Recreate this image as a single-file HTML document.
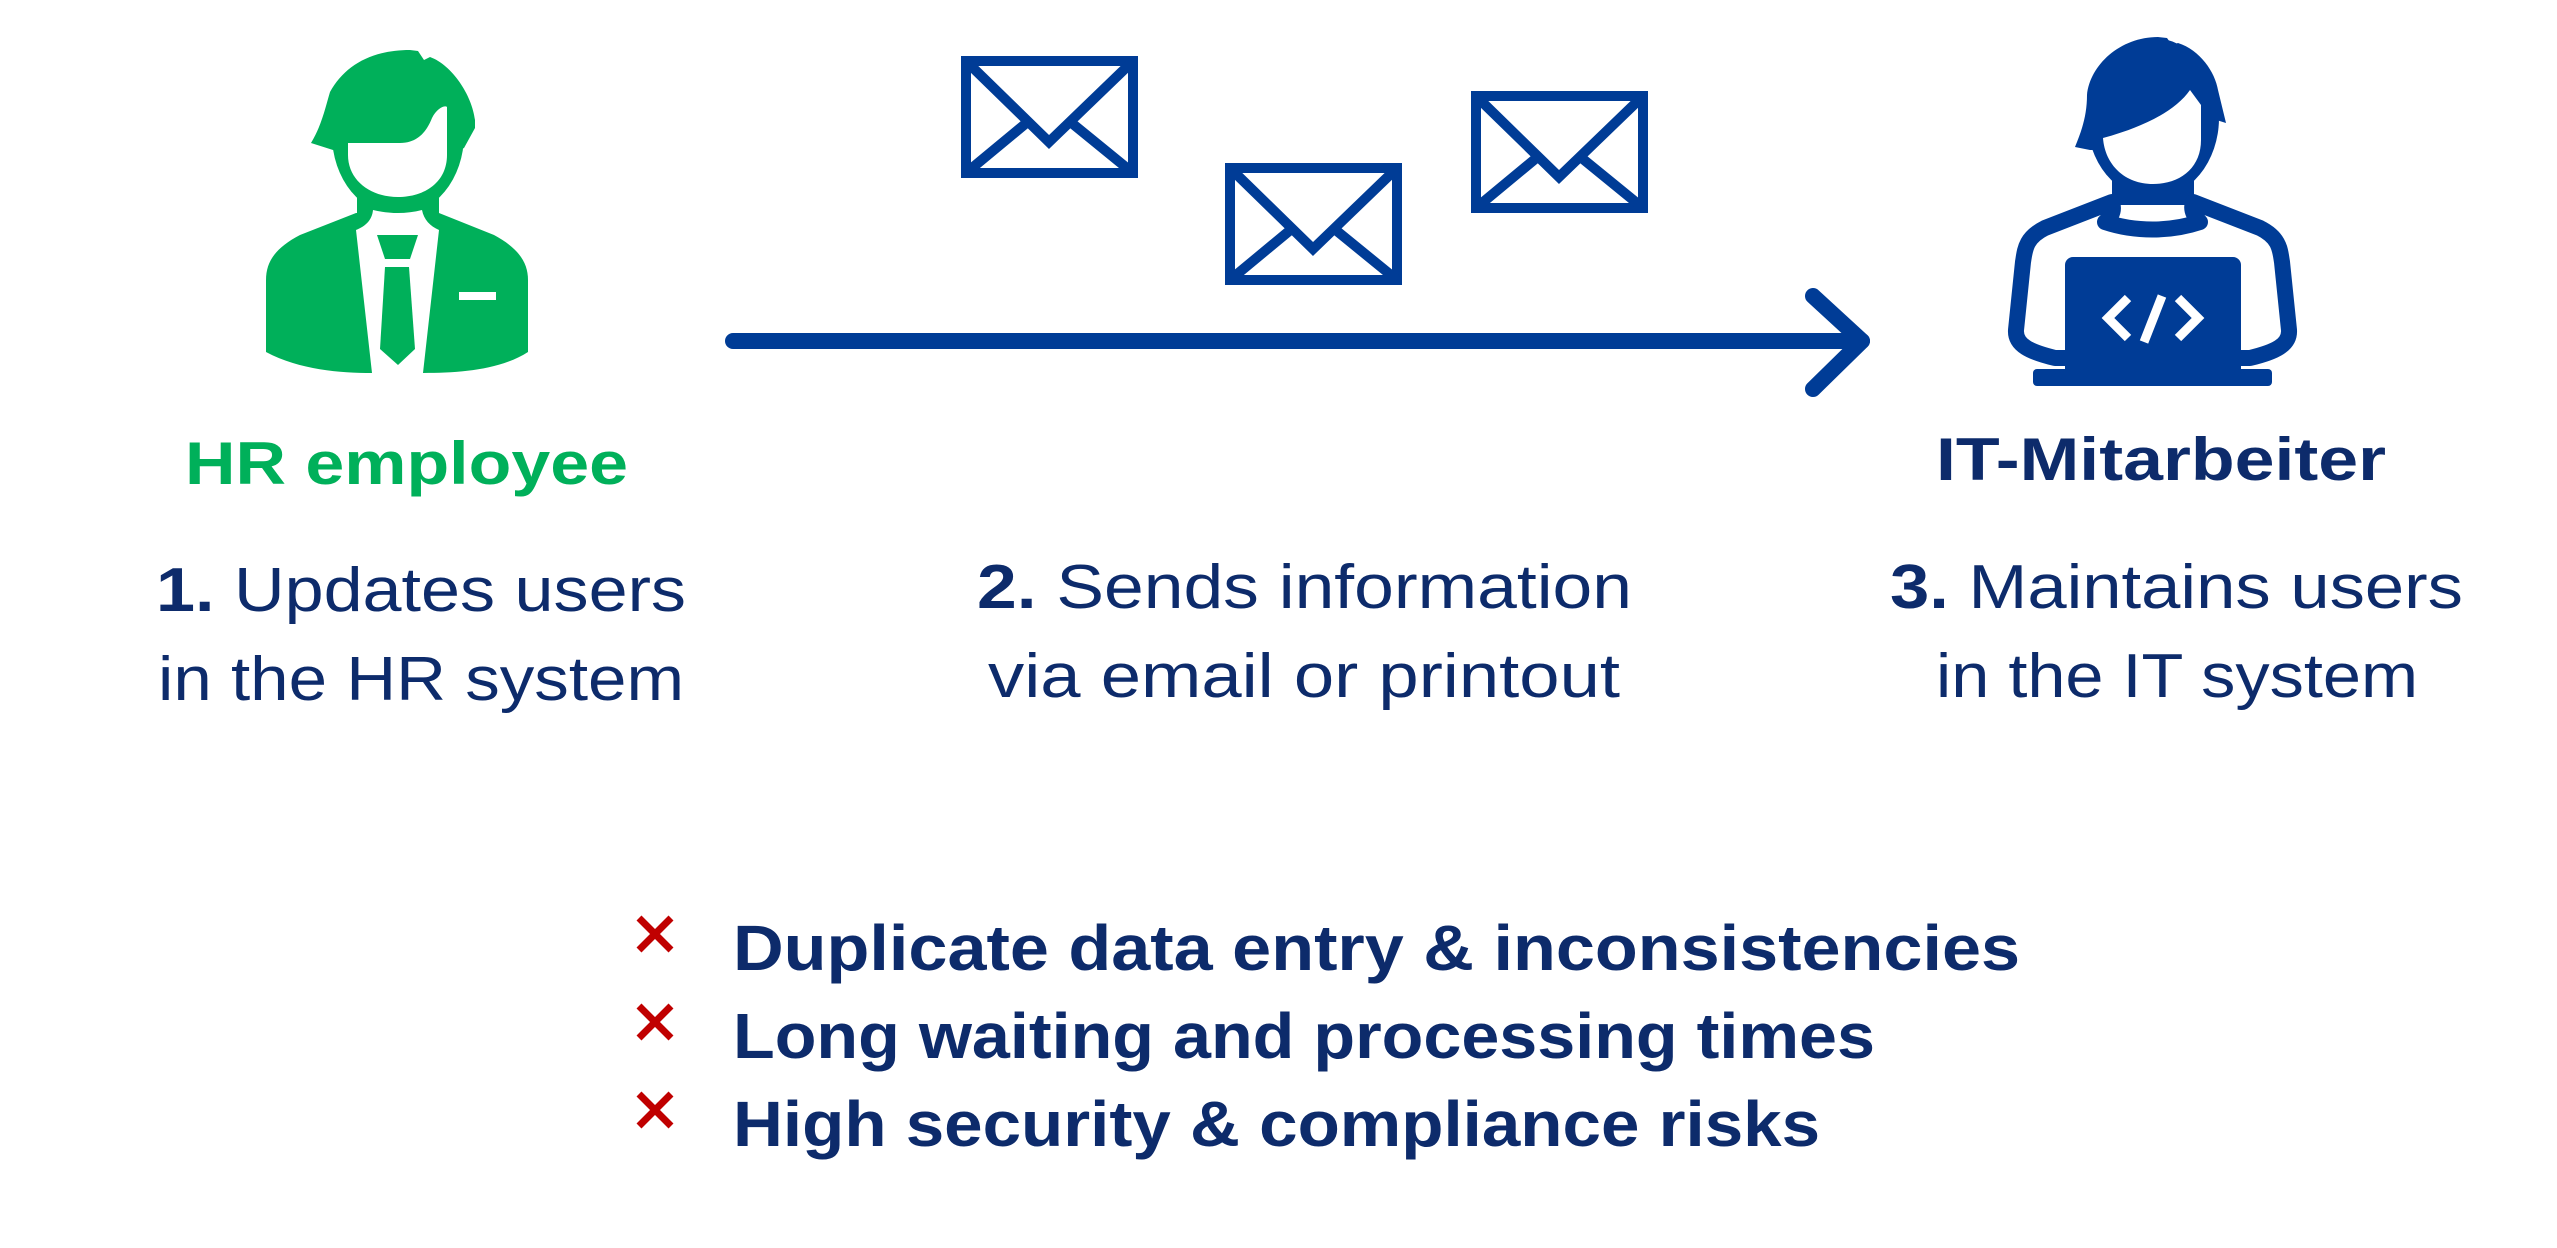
<!DOCTYPE html>
<html><head><meta charset="utf-8"><style>
html,body{margin:0;padding:0;background:#fff;}
svg{display:block;}
text{font-family:"Liberation Sans",sans-serif;}
</style></head><body>
<svg width="2557" height="1248" viewBox="0 0 2557 1248" xmlns="http://www.w3.org/2000/svg">
<rect width="2557" height="1248" fill="#fff"/>
<!-- HR icon -->
<g fill="#00B05A">
  <ellipse cx="398" cy="135" rx="66" ry="80"/>
  <path d="M311,143 C322,125 326,105 330,92 C345,65 372,50 410,50 L418,51 L424,60 L430,57 C452,65 472,95 475,120 L475,128 L464,148 L460,150 L333,150 Z"/>
  <rect x="357" y="190" width="82" height="30"/>
  <path d="M356,213 L300,235 C275,248 266,262 266,280 L266,352 C300,370 340,373 372,373 L423,373 C460,373 500,370 528,352 L528,280 C528,262 518,248 494,235 L439,213 Z"/>
</g>
<path fill="#fff" d="M348,143 L400,143 C420,143 428,128 432,118 C437,108 445,105 447,107 L447,155 C447,182 425,197 398,197 C370,197 348,180 348,155 Z"/>
<path fill="#fff" d="M373,210 C390,214 406,214 422,210 C424,220 430,226 439,230 L423,373 L372,373 L356,230 C366,226 372,220 373,210 Z"/>
<g fill="#00B05A">
  <path d="M377,235 L418,235 L410,259 L385,259 Z"/>
  <path d="M385,267 L409,267 L415,349 L398,365 L380,349 Z"/>
</g>
<rect x="459" y="292" width="37" height="8" fill="#fff"/>

<!-- envelopes -->
<g fill="none" stroke="#003C96" stroke-width="10">
  <rect x="966" y="61" width="167" height="112"/>
  <path d="M966,61 L1049,142 L1133,61 M966,173 L1030,120 M1133,173 L1068,120"/>
  <rect x="1230" y="168" width="167" height="112"/>
  <path d="M1230,168 L1313,249 L1397,168 M1230,280 L1294,227 M1397,280 L1332,227"/>
  <rect x="1476" y="96" width="167" height="112"/>
  <path d="M1476,96 L1559,177 L1643,96 M1476,208 L1540,155 M1643,208 L1578,155"/>
</g>

<!-- arrow -->
<g stroke="#003C96" stroke-width="16" stroke-linecap="round" fill="none">
  <line x1="733" y1="341" x2="1862" y2="341"/>
  <path d="M1813,296 L1862,341 L1813,389" stroke-linejoin="round"/>
</g>

<!-- IT icon -->
<g fill="#003C96">
  <ellipse cx="2153" cy="118" rx="66" ry="80"/>
  <path d="M2075,147 C2082,130 2087,115 2087,95 C2090,65 2120,37 2158,37 L2167,38 L2172,45 L2178,43 C2200,50 2215,72 2218,90 L2226,123 L2210,118 L2210,150 L2090,150 Z"/>
  <rect x="2112" y="180" width="82" height="25"/>
</g>
<path fill="#fff" d="M2103,138 C2140,128 2175,112 2190,90 L2201,105 L2201,140 C2201,168 2180,184 2153,184 C2125,184 2105,165 2103,138 Z"/>
<path fill="#fff" stroke="#003C96" stroke-width="16" stroke-linejoin="round" d="M2112,202 L2045,228 C2025,238 2025,250 2023,262 L2016,330 C2015,345 2030,352 2055,358 L2250,358 C2275,352 2290,345 2289,330 L2282,262 C2280,250 2280,238 2260,228 L2193,202 C2190,212 2196,218 2200,222 C2170,232 2135,232 2105,222 C2110,218 2115,212 2112,202 Z"/>
<rect x="2065" y="257" width="176" height="120" rx="8" fill="#003C96"/>
<rect x="2033" y="369" width="239" height="17" rx="4" fill="#003C96"/>
<g stroke="#fff" stroke-width="9" fill="none">
  <path d="M2128,298 L2108,318 L2128,338"/>
  <path d="M2178,298 L2198,318 L2178,338"/>
  <line x1="2162" y1="296" x2="2144" y2="342"/>
</g>

<!-- labels -->
<text x="185" y="484" font-size="60" font-weight="bold" fill="#00B05A" textLength="443" lengthAdjust="spacingAndGlyphs">HR employee</text>
<text x="1936" y="480" font-size="60" font-weight="bold" fill="#0D2B6B" textLength="450" lengthAdjust="spacingAndGlyphs">IT-Mitarbeiter</text>

<g font-size="62" fill="#0D2B6B">
  <text x="156" y="611" textLength="530" lengthAdjust="spacingAndGlyphs"><tspan font-weight="bold">1.</tspan> Updates users</text>
  <text x="158" y="700" textLength="526" lengthAdjust="spacingAndGlyphs">in the HR system</text>
  <text x="977" y="608" textLength="655" lengthAdjust="spacingAndGlyphs"><tspan font-weight="bold">2.</tspan> Sends information</text>
  <text x="988" y="697" textLength="632" lengthAdjust="spacingAndGlyphs">via email or printout</text>
  <text x="1890" y="608" textLength="573" lengthAdjust="spacingAndGlyphs"><tspan font-weight="bold">3.</tspan> Maintains users</text>
  <text x="1936" y="697" textLength="482" lengthAdjust="spacingAndGlyphs">in the IT system</text>
</g>

<!-- bullets -->
<g stroke="#C00000" stroke-width="7">
  <path d="M639,918 L671,950 M671,918 L639,950"/>
  <path d="M639,1006 L671,1038 M671,1006 L639,1038"/>
  <path d="M639,1094 L671,1126 M671,1094 L639,1126"/>
</g>
<g font-size="64" font-weight="bold" fill="#0D2B6B">
  <text x="733" y="970" textLength="1287" lengthAdjust="spacingAndGlyphs">Duplicate data entry &amp; inconsistencies</text>
  <text x="733" y="1058" textLength="1142" lengthAdjust="spacingAndGlyphs">Long waiting and processing times</text>
  <text x="733" y="1146" textLength="1087" lengthAdjust="spacingAndGlyphs">High security &amp; compliance risks</text>
</g>
</svg>
</body></html>
